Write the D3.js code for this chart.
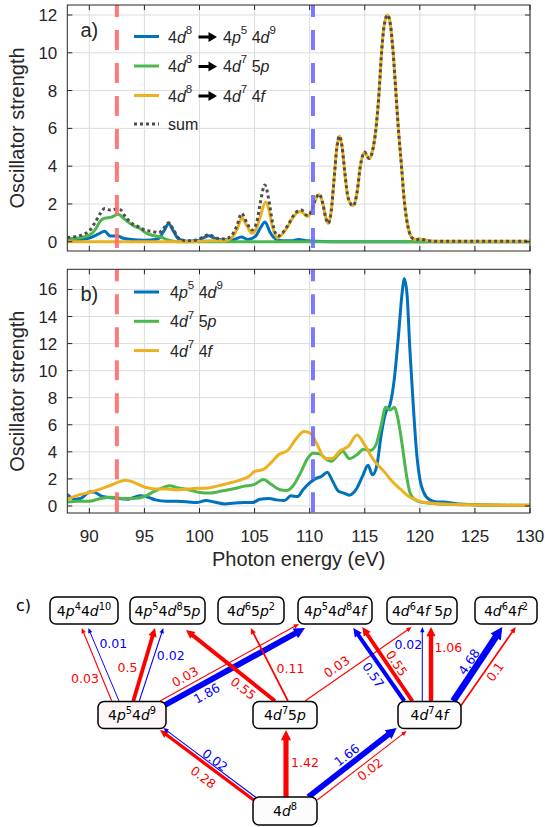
<!DOCTYPE html>
<html>
<head>
<meta charset="utf-8">
<script src="https://cdn.jsdelivr.net/npm/d3@7"></script>
<style>
  body { margin: 0; background: #fff; }
  svg { display: block; }
  text { font-family: "Liberation Sans", Arial, sans-serif; fill: #262626; }
  .dia text { font-family: "DejaVu Sans", sans-serif; fill: #000; }
</style>
</head>
<body>
<script>
// ---------- data ----------
const energyTicks = [90, 95, 100, 105, 110, 115, 120, 125, 130];
const yTicksA = [0, 2, 4, 6, 8, 10, 12];
const yTicksB = [0, 2, 4, 6, 8, 10, 12, 14, 16];
const markerEnergies = [92.5, 110.3];

// panel a: 4d8 -> 4p5 4d9 / 4d7 5p / 4d7 4f / sum   [photon energy, oscillator strength]
const a4p = [[88,0.05],[89,0.1],[90,0.2],[90.8,0.4],[91.4,0.55],[91.9,0.3],[92.5,0.32],[93,0.2],[93.8,0.12],[95,0.08],[96.2,0.15],[96.8,0.6],[97.2,0.95],[97.6,0.6],[98.1,0.15],[98.8,0.03],[99.8,0.05],[100.4,0.22],[100.85,0.32],[101.3,0.2],[102,0.1],[103,0.1],[103.8,0.25],[104.4,0.12],[105.1,0.3],[105.5,0.7],[105.95,1.05],[106.4,0.5],[106.9,0.15],[107.5,0.05],[108.3,0.05],[109,0.12],[109.8,0.05],[110.5,0.02],[112,0],[130,0]];
const a5p = [[88,0.15],[89,0.2],[90,0.35],[90.6,0.7],[91,1.1],[91.4,1.25],[92,1.3],[92.6,1.45],[93,1.3],[93.5,1.05],[94,0.85],[94.6,0.7],[95.1,0.48],[95.8,0.33],[96.5,0.25],[97,0.12],[97.5,0.04],[98,0],[130,0]];
const a4f = [[88,0],[99.5,0],[100.3,0.04],[101,0.05],[102.3,0.05],[102.9,0.2],[103.4,0.65],[103.85,1.25],[104.3,0.85],[104.76,0.45],[105.2,0.75],[105.5,1.3],[106,2.1],[106.3,1.7],[106.6,0.85],[107.1,0.2],[107.5,0.4],[108,0.8],[108.5,1.3],[108.9,1.55],[109.27,1.6],[109.6,1.4],[109.87,1.35],[110.2,1.68],[110.5,2.18],[110.87,2.5],[111.2,2.0],[111.45,1.3],[111.68,0.97],[111.95,1.6],[112.2,3.2],[112.45,4.9],[112.7,5.6],[112.95,5.0],[113.2,3.6],[113.5,2.3],[113.95,1.9],[114.3,2.6],[114.6,4.0],[115,4.75],[115.2,4.55],[115.4,4.4],[115.7,4.8],[116,5.9],[116.3,7.9],[116.5,9.8],[116.75,11.4],[117.07,12.0],[117.35,11.4],[117.58,10.0],[117.85,7.7],[118.05,6.0],[118.35,3.9],[118.55,2.4],[118.8,1.2],[119.05,0.5],[119.35,0.18],[119.7,0.12],[120,0.14],[120.4,0.1],[121,0.04],[122,0.02],[130,0.02]];
const aSum = [[88,0.22],[88.5,0.25],[89,0.3],[89.5,0.4],[90,0.58],[90.5,1.0],[91,1.5],[91.4,1.76],[91.9,1.68],[92.4,1.72],[92.8,1.7],[93.3,1.3],[93.9,0.95],[94.5,0.78],[95.1,0.6],[95.7,0.55],[96.3,0.48],[96.8,0.75],[97.2,1.0],[97.6,0.68],[98.1,0.2],[98.8,0.05],[99.8,0.1],[100.4,0.28],[100.85,0.38],[101.3,0.26],[101.8,0.16],[102.3,0.15],[102.9,0.32],[103.4,0.85],[103.82,1.5],[104.3,1.0],[104.76,0.62],[105.2,1.05],[105.5,2.0],[105.93,3.0],[106.3,2.2],[106.6,1.1],[107.1,0.3],[107.5,0.45],[108,0.85],[108.5,1.35],[108.9,1.62],[109.27,1.68],[109.6,1.45],[109.87,1.38],[110.2,1.7],[110.5,2.2],[110.87,2.52],[111.2,2.0],[111.45,1.3],[111.68,0.97],[111.95,1.6],[112.2,3.2],[112.45,4.9],[112.7,5.6],[112.95,5.0],[113.2,3.6],[113.5,2.3],[113.95,1.9],[114.3,2.6],[114.6,4.0],[115,4.75],[115.2,4.55],[115.4,4.4],[115.7,4.8],[116,5.9],[116.3,7.9],[116.5,9.8],[116.75,11.4],[117.07,12.0],[117.35,11.4],[117.58,10.0],[117.85,7.7],[118.05,6.0],[118.35,3.9],[118.55,2.4],[118.8,1.2],[119.05,0.5],[119.35,0.18],[119.7,0.12],[120,0.14],[120.4,0.1],[121,0.04],[122,0.02],[130,0.02]];

// panel b: 4p5 4d9 / 4d7 5p / 4d7 4f
const b4p = [[88,0.85],[88.7,0.5],[89.2,0.55],[90.1,1.05],[90.5,1.0],[91.2,0.7],[92,0.6],[93.5,0.5],[94.6,0.75],[95.3,0.65],[96,0.45],[97,0.35],[98,0.35],[99,0.3],[99.7,0.25],[100.6,0.4],[101.3,0.3],[102.3,0.15],[103,0.2],[104,0.25],[104.8,0.25],[105.5,0.5],[106.3,0.55],[107,0.45],[107.7,0.4],[108.3,0.75],[108.9,0.7],[109.4,1.2],[110,1.7],[110.5,2.0],[111.1,2.2],[111.6,2.5],[112.1,1.8],[112.6,1.1],[113.1,0.95],[113.6,0.8],[114.2,1.2],[114.8,2.2],[115.3,3.0],[115.7,2.3],[116.1,3.0],[116.5,5.3],[116.9,6.9],[117.3,7.5],[117.7,9.5],[118.05,12.5],[118.4,15.8],[118.6,16.8],[118.85,15.5],[119.1,11.5],[119.4,7.5],[119.7,4.0],[120,2.0],[120.35,1.0],[120.9,0.45],[121.5,0.3],[122.2,0.3],[123,0.2],[124,0.12],[125.5,0.08],[127,0.05],[130,0.03]];
const b5p = [[88,0.3],[89,0.35],[90,0.35],[91,0.55],[92,0.65],[93,0.55],[94,0.55],[95,0.7],[95.7,1.0],[96.5,1.3],[97.3,1.5],[98,1.35],[99,1.2],[100,1.0],[101,0.95],[102,1.1],[103,1.25],[104,1.45],[105,1.6],[105.8,1.95],[106.5,1.6],[107.3,1.2],[107.9,1.15],[108.5,1.5],[109.2,2.5],[109.8,3.5],[110.3,3.9],[110.9,3.85],[111.6,3.4],[112,3.3],[112.5,3.7],[113,4.05],[113.6,3.5],[114.3,3.8],[114.9,4.2],[115.5,4.1],[116,4.5],[116.5,6.0],[116.9,7.3],[117.3,7.1],[117.7,7.3],[118,6.5],[118.4,4.5],[118.8,2.2],[119.1,1.0],[119.5,0.5],[120,0.3],[121,0.2],[123,0.1],[125,0.08],[130,0.05]];
const b4f = [[88,0.5],[89,0.8],[90,1.0],[91,1.25],[92,1.55],[93.3,1.9],[94,1.75],[95,1.4],[96,1.25],[97,1.25],[98,1.2],[99,1.25],[99.8,1.3],[100.5,1.3],[101.5,1.45],[102.5,1.65],[103.8,1.95],[104.5,2.2],[105,2.55],[105.8,2.7],[106.5,3.2],[107.2,3.8],[108,4.1],[108.8,5.0],[109.5,5.5],[110.1,5.35],[110.7,4.5],[111.4,3.5],[112,3.5],[112.8,4.1],[113.5,4.4],[114.3,5.25],[115,4.5],[115.8,3.4],[116.8,2.5],[117.5,1.8],[118.3,1.2],[119,0.7],[119.8,0.4],[120.5,0.25],[122,0.15],[125,0.08],[130,0.05]];

// panel c: configurations and transitions [from, to, strength, colour]
const configs = ["4p^{4}4d^{10}", "4p^{5}4d^{8}5p", "4d^{6}5p^{2}", "4p^{5}4d^{8}4f", "4d^{6}4f 5p", "4d^{6}4f^{2}",
                 "4p^{5}4d^{9}", "4d^{7}5p", "4d^{7}4f", "4d^{8}"];
const transitions = [
  [6,0,0.03,"red"],[6,0,0.01,"blue"],[6,1,0.5,"red"],[6,1,0.02,"blue"],[6,3,0.03,"red"],[6,3,1.86,"blue"],
  [7,1,0.55,"red"],[7,2,0.11,"red"],[7,4,0.03,"red"],
  [8,3,0.57,"blue"],[8,3,0.55,"red"],[8,4,0.02,"blue"],[8,4,1.06,"red"],[8,5,4.68,"blue"],[8,5,0.1,"red"],
  [9,6,0.28,"red"],[9,6,0.02,"blue"],[9,7,1.42,"red"],[9,8,1.66,"blue"],[9,8,0.02,"red"]
];

// ---------- layout ----------
const W = 545, H = 827;
const svg = d3.select("body").append("svg").attr("width", W).attr("height", H);

const x = d3.scaleLinear().domain([88, 130]).range([67.3, 530]);
const colBlue = "#0072bd", colGreen = "#4cb84c", colOrange = "#edb120", colSum = "#4d4d4d";

const line = yS => d3.line().x(d => x(d[0])).y(d => yS(d[1])).curve(d3.curveMonotoneX);

// superscripts / italic letters as tspans
function rich(t, str, size, supScale, supRaise) {
  const re = /\^\{([^}]*)\}|([a-z])|([^a-z^]+)/g;
  let m, back = 0;
  while ((m = re.exec(str))) {
    if (m[1] !== undefined) {
      t.append("tspan").attr("dy", -size * supRaise + back).attr("font-size", size * supScale).text(m[1]);
      back = 0;
      back = size * supRaise;
    } else {
      const s = t.append("tspan").attr("dy", back).text(m[2] || m[3]);
      back = 0;
      if (m[2]) s.attr("font-style", "italic");
    }
  }
}

const panels = [
  { top: 5, bottom: 251, domain: [-0.49, 12.53], ticks: yTicksA, letter: "a)",
    series: [[a4p, colBlue], [a5p, colGreen], [a4f, colOrange]], sum: aSum },
  { top: 269.3, bottom: 513, domain: [-0.52, 17.49], ticks: yTicksB, letter: "b)",
    series: [[b4p, colBlue], [b5p, colGreen], [b4f, colOrange]] }
];

panels.forEach((p, i) => {
  const y = d3.scaleLinear().domain(p.domain).range([p.bottom, p.top]);
  const g = svg.append("g");
  const [x0, x1] = x.range();

  g.append("clipPath").attr("id", "clip" + i).append("rect")
    .attr("x", x0).attr("y", p.top).attr("width", x1 - x0).attr("height", p.bottom - p.top);

  // grid
  g.selectAll(".gx").data(energyTicks).join("line")
    .attr("x1", d => x(d)).attr("x2", d => x(d)).attr("y1", p.top).attr("y2", p.bottom)
    .attr("stroke", "#dcdcdc").attr("stroke-width", 1);
  g.selectAll(".gy").data(p.ticks).join("line")
    .attr("x1", x0).attr("x2", x1).attr("y1", d => y(d)).attr("y2", d => y(d))
    .attr("stroke", "#dcdcdc").attr("stroke-width", 1);

  const plot = g.append("g").attr("clip-path", `url(#clip${i})`);
  p.series.forEach(([data, c]) => {
    plot.append("path").datum(data).attr("d", line(y)).attr("fill", "none")
      .attr("stroke", c).attr("stroke-width", 3).attr("stroke-linejoin", "round");
  });
  if (p.sum) {
    plot.append("path").datum(p.sum).attr("d", line(y)).attr("fill", "none")
      .attr("stroke", colSum).attr("stroke-width", 3).attr("stroke-dasharray", "3,3");
  }
  // marker energies
  plot.selectAll(".mk").data(markerEnergies).join("line")
    .attr("x1", d => x(d)).attr("x2", d => x(d)).attr("y1", p.top).attr("y2", p.bottom)
    .attr("stroke", (d, k) => k ? "#6b6bff" : "#ff6b6b").attr("stroke-opacity", 0.9)
    .attr("stroke-width", 4).attr("stroke-dasharray", "20,13").attr("stroke-dashoffset", 8);

  // frame and inward ticks
  g.append("rect").attr("x", x0).attr("y", p.top).attr("width", x1 - x0).attr("height", p.bottom - p.top)
    .attr("fill", "none").attr("stroke", "#262626").attr("stroke-width", 1);
  energyTicks.forEach(t => {
    g.append("line").attr("x1", x(t)).attr("x2", x(t)).attr("y1", p.bottom).attr("y2", p.bottom - 5).attr("stroke", "#262626");
    g.append("line").attr("x1", x(t)).attr("x2", x(t)).attr("y1", p.top).attr("y2", p.top + 5).attr("stroke", "#262626");
  });
  p.ticks.forEach(t => {
    g.append("line").attr("x1", x0).attr("x2", x0 + 5).attr("y1", y(t)).attr("y2", y(t)).attr("stroke", "#262626");
    g.append("line").attr("x1", x1).attr("x2", x1 - 5).attr("y1", y(t)).attr("y2", y(t)).attr("stroke", "#262626");
    g.append("text").attr("x", x0 - 10).attr("y", y(t) + 6).attr("text-anchor", "end")
      .attr("font-size", 17).text(t);
  });

  g.append("text").attr("transform", `translate(24,${(p.top + p.bottom) / 2}) rotate(-90)`)
    .attr("text-anchor", "middle").attr("font-size", 20).text("Oscillator strength");
  g.append("text").attr("x", 80.5).attr("y", p.top + 32).attr("font-size", 20).text(p.letter);
  p.y = y;
});

// x tick labels and title (bottom panel)
svg.selectAll(".xl").data(energyTicks).join("text")
  .attr("x", d => x(d)).attr("y", 542).attr("text-anchor", "middle").attr("font-size", 17).text(d => d);
svg.append("text").attr("x", (x.range()[0] + x.range()[1]) / 2).attr("y", 566)
  .attr("text-anchor", "middle").attr("font-size", 20).text("Photon energy (eV)");

// legends
const legA = [["4p^{5} 4d^{9}", colBlue], ["4d^{7} 5p", colGreen], ["4d^{7} 4f", colOrange]];
legA.forEach(([lab, c], k) => {
  const base = 42.5 + k * 29.5;
  svg.append("line").attr("x1", 134).attr("x2", 159).attr("y1", base - 6).attr("y2", base - 6)
    .attr("stroke", c).attr("stroke-width", 3);
  rich(svg.append("text").attr("x", 168).attr("y", base).attr("font-size", 16), "4d^{8}", 16, 0.72, 0.55);
  svg.append("path").attr("d", `M198.5,${base - 7}h10v-3.5l8.5,5l-8.5,5v-3.5h-10z`).attr("fill", "#000");
  rich(svg.append("text").attr("x", 223).attr("y", base).attr("font-size", 16), lab, 16, 0.72, 0.55);
});
svg.append("line").attr("x1", 134).attr("x2", 159).attr("y1", 124).attr("y2", 124)
  .attr("stroke", colSum).attr("stroke-width", 3).attr("stroke-dasharray", "3,3");
svg.append("text").attr("x", 168).attr("y", 130).attr("font-size", 16).text("sum");

legA.forEach(([lab, c], k) => {
  const base = 298 + k * 29.3;
  svg.append("line").attr("x1", 134).attr("x2", 159).attr("y1", base - 6).attr("y2", base - 6)
    .attr("stroke", c).attr("stroke-width", 3);
  rich(svg.append("text").attr("x", 170).attr("y", base).attr("font-size", 16), lab, 16, 0.72, 0.55);
});

// ---------- panel c: transition diagram ----------
const boxes = [ // cx, cy, w  (layout)
  [84, 610.5, 68], [167.5, 610.5, 75], [251, 610.5, 66], [335, 610.5, 74], [422, 610.5, 70], [506, 610.5, 62],
  [132, 715, 68], [285, 715, 64], [429.5, 715, 63], [285, 811, 64]
];
const arrowGeom = [ // start x,y  end x,y  label x,y, rotation (layout)
  [111.7,701,81.7,628, 85,678,0], [119,701,88.3,628, 113.3,643,0], [133.3,701,155,628, 127.5,667,0], [139.3,701,163.3,628, 170.7,655.5,0],
  [160,701,299,624, 185,676.7,-29], [165,705,305,628, 206.7,693.3,-29],
  [275,701,186,630, 243.3,688.3,38.6], [288,701,250.7,628, 290.5,668,0], [305,701,411.7,627, 336.7,666.7,-34.7],
  [404.3,701,353.3,628, 373.3,675,55], [412.3,701,362.3,627, 396.7,663.3,56], [422.3,701,422.3,627, 408.3,644.3,0],
  [431,701,431,627, 448.3,647.7,0], [453.3,701,502.3,627, 469,661.7,-56.5], [460,707,515.7,627, 495,671.7,-55],
  [255,801,160,730, 203.3,777.3,36.8], [256.7,798,163.3,728, 215,760,37], [286,797,286,730, 305,762.5,0],
  [308.3,797,396.7,728, 346.7,755,-38], [317.3,800,406.7,731, 370,769.3,-38]
];
const widthScale = d3.scaleLinear().domain([0, 0.12, 0.3, 0.6, 1.2, 1.7, 5]).range([0.9, 1.8, 3.5, 4, 4.6, 5.8, 6.8]);
const arrowCol = { red: "#ff0000", blue: "#0000ff" };

const dia = svg.append("g").attr("class", "dia");
dia.append("text").attr("x", 16).attr("y", 611).attr("font-size", 16).text("c)");

transitions.forEach(([from, to, v, c], k) => {
  const [sx, sy, ex, ey, lx, ly, rot] = arrowGeom[k];
  const w = widthScale(v);
  const ang = Math.atan2(ey - sy, ex - sx);
  const hl = 4 + w * 1.2, hw = (3 + w * 1.4) / 2;
  const bx = ex - hl * Math.cos(ang), by = ey - hl * Math.sin(ang);
  const nx = -Math.sin(ang), ny = Math.cos(ang);
  dia.append("line").attr("x1", sx).attr("y1", sy).attr("x2", bx + (ex - bx) * 0.1).attr("y2", by + (ey - by) * 0.1)
    .attr("stroke", arrowCol[c]).attr("stroke-width", w);
  dia.append("path").attr("d", `M${ex},${ey}L${bx + nx * hw},${by + ny * hw}L${bx - nx * hw},${by - ny * hw}Z`)
    .attr("fill", arrowCol[c]);
  dia.append("text").attr("transform", `translate(${lx},${ly}) rotate(${rot})`)
    .attr("text-anchor", "middle").attr("dominant-baseline", "central")
    .attr("font-size", 12.5).style("fill", arrowCol[c]).text(String(v));
});

configs.forEach((lab, k) => {
  const [cx, cy, w] = boxes[k];
  const h = k === 9 ? 28 : 27;
  dia.append("rect").attr("x", cx - w / 2).attr("y", cy - h / 2).attr("width", w).attr("height", h)
    .attr("rx", 6).attr("fill", k === 6 ? "#fdf6f6" : "#fcfcfc").attr("stroke", "#000").attr("stroke-width", 1.5);
  rich(dia.append("text").attr("x", cx).attr("y", cy + 5).attr("text-anchor", "middle").attr("font-size", 14),
       lab, 14, 0.7, 0.4);
});
</script>
</body>
</html>
